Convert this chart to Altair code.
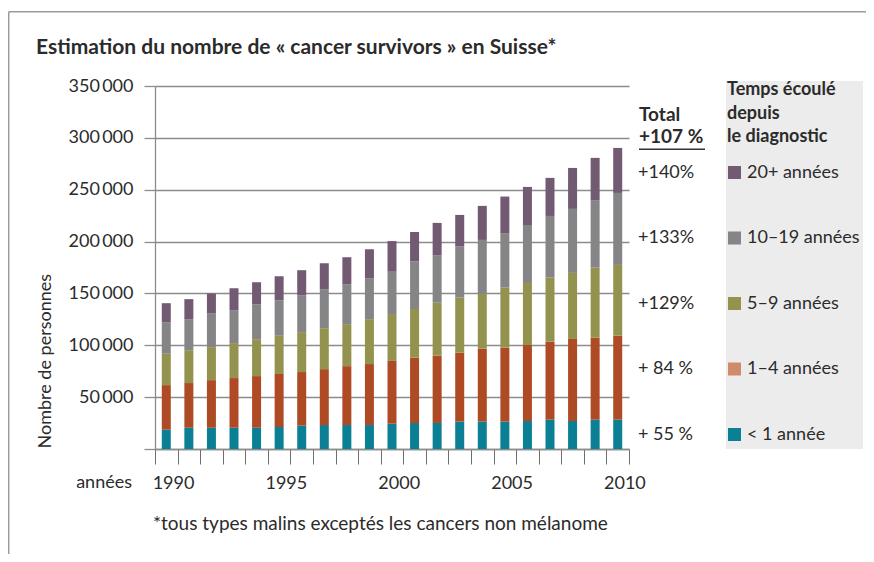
import altair as alt
import pandas as pd

# ---------------- data ----------------
years = list(range(1990, 2011))
categories = ["< 1 année", "1–4 années", "5–9 années", "10–19 années", "20+ années"]
lt1 = [18600, 20500, 20500, 20500, 20500, 21200, 22500, 23100, 23100, 23100, 24400,
       25100, 25100, 26400, 26400, 26400, 27000, 28300, 27000, 28300, 28300]
y1_4 = [43000, 43100, 45900, 47900, 49800, 51000, 51700, 53900, 56800, 58800, 60500,
        63000, 64900, 66500, 70400, 71300, 73300, 75200, 79100, 79100, 81000]
y5_9 = [30200, 31700, 31800, 33700, 35600, 36900, 38500, 39500, 40500, 43300, 45300,
        46900, 51100, 53100, 53000, 57900, 59800, 61800, 63700, 67500, 68200]
y10_19 = [30500, 29900, 32800, 31800, 33700, 34400, 35600, 37600, 38500, 39500, 41400,
          45700, 45400, 49200, 51800, 52100, 55900, 59400, 61700, 64600, 69400]
y20p = [18300, 19300, 18900, 21100, 21200, 23100, 24100, 25000, 26000, 27900, 28900,
        28600, 31500, 30500, 32800, 35700, 36700, 36700, 39500, 41200, 43400]
growth_labels = ["+ 55 %", "+ 84 %", "+129%", "+133%", "+140%"]
total_label = "Total"
total_growth = "+107 %"
y_ticks = [0, 50000, 100000, 150000, 200000, 250000, 300000, 350000]

bar_colors = ["#0b7f93", "#ae4b25", "#93934f", "#858587", "#735a73"]
legend_colors = ["#0b7f93", "#d08b6b", "#93934f", "#858587", "#735a73"]

title_text = "Estimation du nombre de « cancer survivors » en Suisse*"
footnote = "*tous types malins exceptés les cancers non mélanome"
legend_title = ["Temps écoulé", "depuis", "le diagnostic"]

series = [lt1, y1_4, y5_9, y10_19, y20p]
rows = []
for ci, (cat, vals) in enumerate(zip(categories, series)):
    for yr, v in zip(years, vals):
        rows.append({"year": yr, "category": cat, "value": v, "idx": ci})
df = pd.DataFrame(rows)

FONT = "Lato"
TXT = "#2b2b2b"
GRID = "#8c8c8c"
W, H = 474, 363

bars = alt.Chart(df).mark_bar(size=9).encode(
    x=alt.X(
        "year:Q",
        scale=alt.Scale(domain=[1989.5, 2010.5], nice=False, zero=False, padding=0),
        axis=alt.Axis(
            values=[y - 0.5 for y in range(1990, 2012)],
            labelExpr="(datum.value + 0.5) % 5 === 0 ? format(datum.value + 0.5, 'd') : ''",
            title=None, grid=False, domain=True, domainColor=GRID, domainWidth=1.3,
            ticks=True, tickSize=15, tickColor="#6e6e6e", tickWidth=1,
            labelFont=FONT, labelFontSize=18, labelColor=TXT,
            labelBaseline="alphabetic", labelPadding=24, labelOffset=18,
            labelOverlap=False, labelFlush=False,
        ),
    ),
    y=alt.Y(
        "value:Q", stack="zero",
        scale=alt.Scale(domain=[0, 350000], nice=False),
        axis=alt.Axis(
            values=y_ticks,
            labelExpr="datum.value === 0 ? '' : replace(format(datum.value, ','), ',', '\u2009')",
            grid=True, gridColor=GRID, gridWidth=1.3,
            domain=True, domainColor=GRID, domainWidth=1.3,
            tickSize=11, tickColor=GRID, tickWidth=1.3,
            labelFont=FONT, labelFontSize=18, labelColor=TXT, labelPadding=11,
            labelBaseline="middle",
            title="Nombre de personnes", titleFont=FONT, titleFontSize=18,
            titleFontWeight="normal", titleColor=TXT, titleAngle=270,
            titleX=-105, titleY=362, titleAlign="left", titleBaseline="alphabetic",
        ),
    ),
    color=alt.Color("category:N", scale=alt.Scale(domain=categories, range=bar_colors), legend=None),
    order=alt.Order("idx:Q", sort="ascending"),
)

one = pd.DataFrame({"a": [0]})


def text(x, y, s, size=18, weight="normal", align="left", baseline="alphabetic"):
    return alt.Chart(one).mark_text(
        font=FONT, fontSize=size, fontWeight=weight, align=align,
        baseline=baseline, color=TXT,
    ).encode(x=alt.value(x), y=alt.value(y), text=alt.value(s))


def rule(x, y, x2=None, y2=None, color="#9a9a9a", width=1.5):
    enc = {"x": alt.value(x), "y": alt.value(y)}
    if x2 is not None:
        enc["x2"] = alt.value(x2)
    if y2 is not None:
        enc["y2"] = alt.value(y2)
    return alt.Chart(one).mark_rule(color=color, strokeWidth=width).encode(**enc)


layers = []
# frame
layers.append(rule(-146.3, -74.3, y2=480))
layers.append(rule(-146.3, -74.3, x2=720))
# legend panel
layers.append(alt.Chart(one).mark_rect(color="#ececec").encode(
    x=alt.value(571), x2=alt.value(708), y=alt.value(-5), y2=alt.value(363)))
layers.append(bars)
# title
layers.append(text(-119, -31.7, title_text, size=21, weight="bold"))
# axis extras
layers.append(text(-23, 402, "années", align="right"))
layers.append(text(-2, 444, footnote, size=19))
# total column
layers.append(text(484, 34.7, total_label, size=19, weight="bold"))
layers.append(text(484, 57.3, total_growth, size=19, weight="bold"))
layers.append(rule(484, 63.3, x2=550, color="#333333", width=1.5))
# legend title
for i, line in enumerate(legend_title):
    layers.append(text(572, 9 + i * 23.5, line, weight="bold"))
# legend rows + growth
for i, cat in enumerate(categories):
    yc = 348.5 - i * 65.5
    layers.append(text(483, yc, growth_labels[i], baseline="middle"))
    layers.append(alt.Chart(one).mark_rect(color=legend_colors[i]).encode(
        x=alt.value(573), x2=alt.value(586), y=alt.value(yc - 6.5), y2=alt.value(yc + 6.5)))
    layers.append(text(592, yc, cat, baseline="middle"))

chart = alt.layer(*layers).properties(
    width=W, height=H,
    autosize=alt.AutoSizeParams(type="none"),
    padding={"left": 147, "top": 78, "right": 237, "bottom": 105},
    background="white",
).configure_view(stroke=None)

chart.save("out.html", embed_options={"renderer": "svg", "actions": False})
